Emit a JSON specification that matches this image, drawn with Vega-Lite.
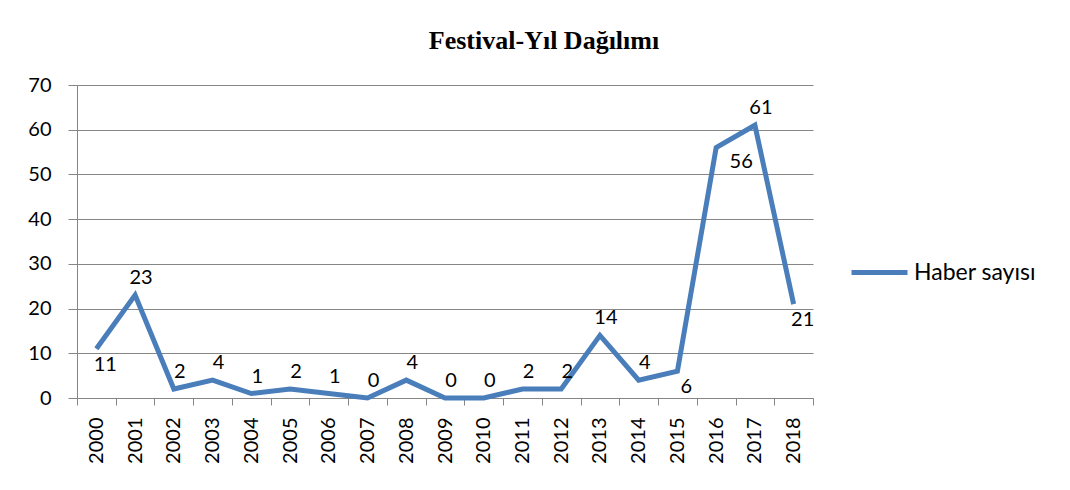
{
  "$schema": "https://vega.github.io/schema/vega-lite/v6.json",
  "width": 736,
  "height": 313,
  "autosize": {"type": "none"},
  "padding": {"left": 77, "top": 85, "right": 257, "bottom": 92},
  "background": "white",
  "title": {
    "text": "Festival-Yıl Dağılımı",
    "font": "Liberation Serif",
    "fontSize": 26,
    "fontWeight": "bold",
    "color": "black",
    "dx": 99,
    "offset": 21
  },
  "data": {
    "values": [
      {"yil": "2000", "haber": 11},
      {"yil": "2001", "haber": 23},
      {"yil": "2002", "haber": 2},
      {"yil": "2003", "haber": 4},
      {"yil": "2004", "haber": 1},
      {"yil": "2005", "haber": 2},
      {"yil": "2006", "haber": 1},
      {"yil": "2007", "haber": 0},
      {"yil": "2008", "haber": 4},
      {"yil": "2009", "haber": 0},
      {"yil": "2010", "haber": 0},
      {"yil": "2011", "haber": 2},
      {"yil": "2012", "haber": 2},
      {"yil": "2013", "haber": 14},
      {"yil": "2014", "haber": 4},
      {"yil": "2015", "haber": 6},
      {"yil": "2016", "haber": 56},
      {"yil": "2017", "haber": 61},
      {"yil": "2018", "haber": 21}
    ]
  },
  "encoding": {
    "x": {
      "field": "yil",
      "type": "ordinal",
      "scale": {"paddingInner": 0, "paddingOuter": 0},
      "axis": {
        "title": null,
        "labelAngle": 270,
        "labelAlign": "right",
        "labelBaseline": "middle",
        "labelFont": "Lato",
        "labelFontSize": 20,
        "labelColor": "black",
        "labelPadding": 12,
        "tickBand": "extent",
        "tickSize": 7,
        "tickColor": "#868686",
        "domainColor": "#868686",
        "grid": false
      }
    },
    "y": {
      "field": "haber",
      "type": "quantitative",
      "scale": {"domain": [0, 70], "nice": false},
      "axis": {
        "title": null,
        "values": [0, 10, 20, 30, 40, 50, 60, 70],
        "labelFont": "Lato",
        "labelFontSize": 20,
        "labelColor": "black",
        "labelPadding": 17,
        "tickSize": 9,
        "tickColor": "#868686",
        "domainColor": "#868686",
        "gridColor": "#868686",
        "grid": true
      }
    }
  },
  "layer": [
    {
      "mark": {"type": "line", "strokeWidth": 5, "strokeJoin": "miter"},
      "encoding": {
        "color": {
          "datum": "Haber sayısı",
          "scale": {"range": ["#4a7ebb"]},
          "legend": {
            "title": null,
            "orient": "none",
            "legendX": 772,
            "legendY": 157,
            "symbolType": "stroke",
            "symbolSize": 3136,
            "symbolStrokeWidth": 5,
            "labelFont": "Lato",
            "labelFontSize": 23,
            "labelColor": "black",
            "labelOffset": 4
          }
        }
      }
    },
    {
      "transform": [{"filter": "indexof(['2000','2015','2016','2018'], datum.yil) < 0"}],
      "mark": {"type": "text", "font": "Lato", "fontSize": 20, "color": "black", "dx": 6, "dy": -17},
      "encoding": {"text": {"field": "haber", "type": "quantitative"}}
    },
    {
      "transform": [{"filter": "indexof(['2000','2015','2018'], datum.yil) >= 0"}],
      "mark": {"type": "text", "font": "Lato", "fontSize": 20, "color": "black", "dx": 9, "dy": 16},
      "encoding": {"text": {"field": "haber", "type": "quantitative"}}
    },
    {
      "transform": [{"filter": "datum.yil == '2016'"}],
      "mark": {"type": "text", "font": "Lato", "fontSize": 20, "color": "black", "dx": 25, "dy": 14},
      "encoding": {"text": {"field": "haber", "type": "quantitative"}}
    }
  ],
  "config": {"view": {"stroke": null}}
}
